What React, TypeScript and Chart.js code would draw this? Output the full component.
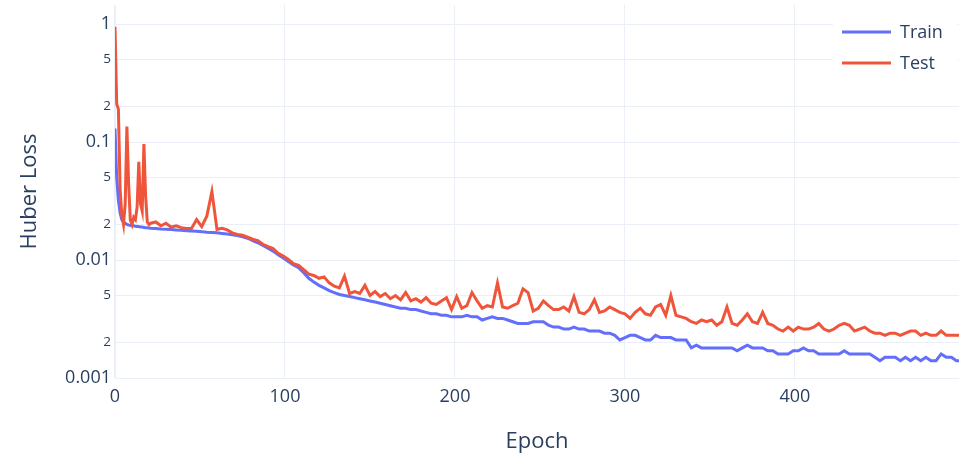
import React, { useEffect, useRef } from "react";
import { Chart, registerables } from "chart.js";

Chart.register(...registerables);

const epochs = [
  0, 1, 2, 3, 4, 5, 6, 7, 8, 9, 10, 11, 12, 13, 14, 15, 16, 17, 18, 19, 20,
  21, 24, 27, 30, 33, 36, 39, 42, 45, 48,
  51, 54, 57, 60, 63, 66, 69, 72, 75, 78,
  81, 84, 87, 90, 93, 96, 99, 102, 105, 108,
  111, 114, 117, 120, 123, 126, 129, 132, 135, 138,
  141, 144, 147, 150, 153, 156, 159, 162, 165, 168,
  171, 174, 177, 180, 183, 186, 189, 192, 195, 198,
  201, 204, 207, 210, 213, 216, 219, 222, 225, 228,
  231, 234, 237, 240, 243, 246, 249, 252, 255, 258,
  261, 264, 267, 270, 273, 276, 279, 282, 285, 288,
  291, 294, 297, 300, 303, 306, 309, 312, 315, 318,
  321, 324, 327, 330, 333, 336, 339, 342, 345, 348,
  351, 354, 357, 360, 363, 366, 369, 372, 375, 378,
  381, 384, 387, 390, 393, 396, 399, 402, 405, 408,
  411, 414, 417, 420, 423, 426, 429, 432, 435, 438,
  441, 444, 447, 450, 453, 456, 459, 462, 465, 468,
  471, 474, 477, 480, 483, 486, 489, 492, 495, 498,
];

const trainLoss = [
  0.13, 0.05, 0.032, 0.025, 0.022, 0.021, 0.0205, 0.02, 0.0198, 0.0197, 0.0195,
  0.0195, 0.0193, 0.0192, 0.0192, 0.019, 0.019, 0.0189, 0.0188, 0.0188, 0.0187,
  0.0186, 0.0185, 0.0183, 0.0182, 0.0181, 0.018, 0.0179, 0.0177, 0.0176, 0.0175,
  0.0174, 0.0172, 0.0171, 0.017, 0.0168, 0.0166, 0.0164, 0.0161, 0.0157, 0.0153,
  0.0146, 0.014, 0.0133, 0.0126, 0.0119, 0.0111, 0.0104, 0.0097, 0.0091, 0.0086,
  0.0078, 0.007, 0.0065, 0.0061, 0.0058, 0.0055, 0.0053, 0.0051, 0.005, 0.0049,
  0.0048, 0.0047, 0.0046, 0.0045, 0.0044, 0.0043, 0.0042, 0.0041, 0.004, 0.0039,
  0.0039, 0.0038, 0.0038, 0.0037, 0.0036, 0.0035, 0.0035, 0.0034, 0.0034, 0.0033,
  0.0033, 0.0033, 0.0034, 0.0033, 0.0033, 0.0031, 0.0032, 0.0033, 0.0032, 0.0032,
  0.0031, 0.003, 0.0029, 0.0029, 0.0029, 0.003, 0.003, 0.003, 0.0028, 0.0027,
  0.0027, 0.0026, 0.0026, 0.0027, 0.0026, 0.0026, 0.0025, 0.0025, 0.0025, 0.0024,
  0.0024, 0.0023, 0.0021, 0.0022, 0.0023, 0.0023, 0.0022, 0.0021, 0.0021, 0.0023,
  0.0022, 0.0022, 0.0022, 0.0021, 0.0021, 0.0021, 0.0018, 0.0019, 0.0018, 0.0018,
  0.0018, 0.0018, 0.0018, 0.0018, 0.0018, 0.0017, 0.0018, 0.0019, 0.0018, 0.0018,
  0.0018, 0.0017, 0.0017, 0.0016, 0.0016, 0.0016, 0.0017, 0.0017, 0.0018, 0.0017,
  0.0017, 0.0016, 0.0016, 0.0016, 0.0016, 0.0016, 0.0017, 0.0016, 0.0016, 0.0016,
  0.0016, 0.0016, 0.0015, 0.0014, 0.0015, 0.0015, 0.0015, 0.0014, 0.0015, 0.0014,
  0.0015, 0.0014, 0.0015, 0.0014, 0.0014, 0.0016, 0.0015, 0.0015, 0.0014, 0.0014,
];

const testLoss = [
  0.95, 0.21, 0.19, 0.04, 0.024, 0.02, 0.03, 0.135, 0.045, 0.022, 0.02,
  0.023, 0.022, 0.028, 0.068, 0.03, 0.026, 0.096, 0.035, 0.021, 0.02,
  0.0205, 0.021, 0.0195, 0.0205, 0.019, 0.0195, 0.0188, 0.0185, 0.0185, 0.022,
  0.0192, 0.0235, 0.038, 0.0182, 0.0186, 0.018, 0.017, 0.0165, 0.0162, 0.0156,
  0.015, 0.0146, 0.0136, 0.013, 0.0125, 0.0114, 0.0108, 0.0101, 0.0093, 0.009,
  0.0083, 0.0076, 0.0074, 0.007, 0.0072, 0.0064, 0.006, 0.0058, 0.0073, 0.0052,
  0.0054, 0.0052, 0.0061, 0.005, 0.0054, 0.0049, 0.0052, 0.0047, 0.005, 0.0046,
  0.0053, 0.0045, 0.0047, 0.0044, 0.0048, 0.0043, 0.0042, 0.0045, 0.0048, 0.0038,
  0.0049, 0.0039, 0.0041, 0.0053, 0.0045, 0.0039, 0.0041, 0.004, 0.0064, 0.004,
  0.0039, 0.0041, 0.0043, 0.0057, 0.0053, 0.0037, 0.0039, 0.0045, 0.0041, 0.0038,
  0.0038, 0.004, 0.0037, 0.0049, 0.0036, 0.0035, 0.0038, 0.0046, 0.0036, 0.0037,
  0.004, 0.0038, 0.0036, 0.0035, 0.0032, 0.0036, 0.0039, 0.0035, 0.0034, 0.004,
  0.0042, 0.0034, 0.005, 0.0034, 0.0033, 0.0032, 0.003, 0.0029, 0.0031, 0.003,
  0.0031, 0.0028, 0.003, 0.004, 0.0029, 0.0028, 0.0031, 0.0035, 0.003, 0.0029,
  0.0036, 0.0029, 0.0028, 0.0026, 0.0025, 0.0027, 0.0025, 0.0027, 0.0026, 0.0026,
  0.0027, 0.0029, 0.0026, 0.0025, 0.0026, 0.0028, 0.0029, 0.0028, 0.0025, 0.0026,
  0.0027, 0.0025, 0.0024, 0.0024, 0.0023, 0.0024, 0.0024, 0.0023, 0.0024, 0.0025,
  0.0025, 0.0023, 0.0024, 0.0023, 0.0023, 0.0025, 0.0023, 0.0023, 0.0023, 0.0023,
];

const seriesNames = ["Train", "Test"];
const seriesColors = ["#636efa", "#ef553b"];
const xTicks = [0, 100, 200, 300, 400];
const yTicks = [0.001, 0.002, 0.005, 0.01, 0.02, 0.05, 0.1, 0.2, 0.5, 1];
const yTickLabels = ["0.001", "2", "5", "0.01", "2", "5", "0.1", "2", "5", "1"];
const yMajor = [0.001, 0.01, 0.1, 1];

const FONT = "'Open Sans', 'Noto Sans', sans-serif";
const TEXT = "#2a3f5f";
const GRID = "#ebf0f8";

export default function App() {
  const ref = useRef<HTMLCanvasElement>(null);

  useEffect(() => {
    if (!ref.current) return;

    const legendPlugin = {
      id: "plotlyLegend",
      afterDatasetsDraw(chart: any) {
        const ctx = chart.ctx;
        const area = chart.chartArea;
        const right = area.right;
        const top = area.top;
        ctx.save();
        ctx.fillStyle = "#ffffff";
        ctx.fillRect(right - 126, top + 9, 124, 66);
        seriesNames.forEach((name, i) => {
          const y = top + 27 + i * 31;
          ctx.strokeStyle = seriesColors[i];
          ctx.lineWidth = 3;
          ctx.beginPath();
          ctx.moveTo(right - 117, y);
          ctx.lineTo(right - 68, y);
          ctx.stroke();
          ctx.fillStyle = TEXT;
          ctx.font = `18px ${FONT}`;
          ctx.textAlign = "left";
          ctx.textBaseline = "middle";
          ctx.fillText(name, right - 59, y + 1);
        });
        ctx.restore();
      },
    };

    const chart = new Chart(ref.current, {
      type: "line",
      data: {
        datasets: [
          {
            label: seriesNames[0],
            data: epochs.map((e, i) => ({ x: e, y: trainLoss[i] })),
            borderColor: seriesColors[0],
            backgroundColor: seriesColors[0],
            borderWidth: 3,
            pointRadius: 0,
            tension: 0,
            order: 1,
          },
          {
            label: seriesNames[1],
            data: epochs.map((e, i) => ({ x: e, y: testLoss[i] })),
            borderColor: seriesColors[1],
            backgroundColor: seriesColors[1],
            borderWidth: 3,
            pointRadius: 0,
            tension: 0,
            order: 0,
          },
        ],
      },
      options: {
        animation: false,
        responsive: false,
        devicePixelRatio: 1,
        layout: { padding: { top: 5, right: 0, left: 0, bottom: 0 } },
        plugins: {
          legend: { display: false },
          tooltip: { enabled: false },
        },
        scales: {
          x: {
            type: "linear",
            min: 0,
            max: 496.5,
            afterBuildTicks: (s: any) => {
              s.ticks = xTicks.map((v) => ({ value: v }));
            },
            afterFit: (s: any) => {
              s.height = 78;
              s.paddingLeft = 0;
              s.paddingRight = 0;
            },
            grid: {
              color: GRID,
              lineWidth: (c: any) => (c.tick && c.tick.value === 0 ? 2 : 1),
              drawTicks: false,
            },
            border: { display: false },
            ticks: {
              font: { family: FONT, size: 18 },
              color: TEXT,
              padding: 8,
              maxRotation: 0,
            },
            title: {
              display: true,
              text: "Epoch",
              font: { family: FONT, size: 22 },
              color: TEXT,
              padding: { top: 0, bottom: 1 },
            },
          },
          y: {
            type: "logarithmic",
            min: 0.001,
            max: 1.45,
            afterBuildTicks: (s: any) => {
              s.ticks = yTicks.map((v) => ({ value: v }));
            },
            afterFit: (s: any) => {
              s.width = 115;
              s.paddingTop = 0;
              s.paddingBottom = 0;
            },
            grid: { color: GRID, lineWidth: 1, drawTicks: false },
            border: { display: false },
            ticks: {
              callback: (_v: any, i: number) => yTickLabels[i],
              font: (c: any) => ({
                family: FONT,
                size: c.tick && yMajor.includes(c.tick.value) ? 18 : 13.5,
              }),
              color: TEXT,
              padding: 4,
              autoSkip: false,
            },
            title: {
              display: true,
              text: "Huber Loss",
              font: { family: FONT, size: 22 },
              color: TEXT,
              padding: { top: 17, bottom: 0 },
            },
          },
        },
      },
      plugins: [legendPlugin],
    } as any);

    return () => chart.destroy();
  }, []);

  return (
    <div style={{ position: "absolute", left: 0, top: 0, width: 959, height: 456, background: "#fff" }}>
      <canvas ref={ref} width={959} height={456} style={{ display: "block" }} />
    </div>
  );
}
